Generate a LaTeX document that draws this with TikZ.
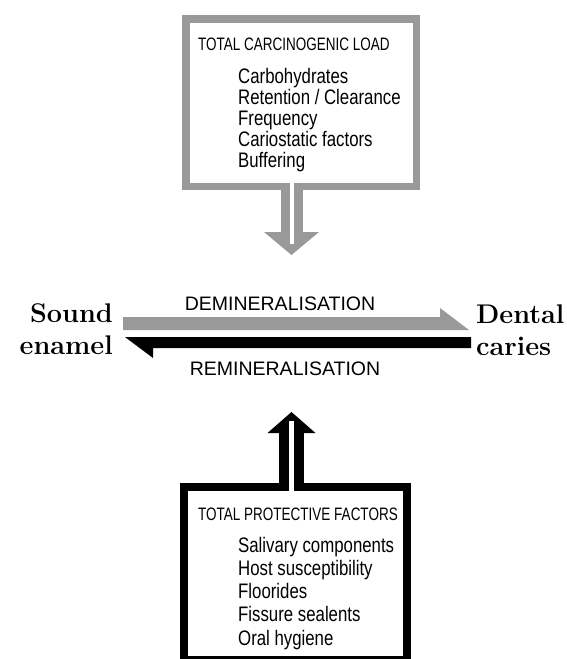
\documentclass[tikz,border=0pt]{standalone}
\usepackage{fontspec}
\usetikzlibrary{arrows.meta,calc}

\newfontfamily\labelfont{Liberation Sans}
\newfontfamily\headfont[FakeStretch=0.75]{Liberation Sans}
\newfontfamily\itemfont[FakeStretch=0.80]{Liberation Sans}
\definecolor{hatchgray}{gray}{0.6}

\tikzset{
    loadbox/.style={draw=hatchgray, line width=7.5pt, inner sep=0pt,
        minimum width=230.5pt, minimum height=167.5pt},
    protbox/.style={draw=black, line width=8pt, inner sep=0pt,
        minimum width=223pt, minimum height=173pt},
    headtext/.style={inner sep=0pt, anchor=base west,
        font=\headfont\fontsize{18}{18}\selectfont},
    itemtext/.style={inner sep=0pt, anchor=base west,
        font=\itemfont\fontsize{21}{21}\selectfont},
    enditem/.style={inner sep=0pt, font=\bfseries\fontsize{27}{32}\selectfont},
    processtext/.style={inner sep=0pt, anchor=base,
        font=\labelfont\fontsize{19.5}{19.5}\selectfont},
}

\begin{document}
\begin{tikzpicture}[x=1pt, y=-1pt]
    \useasboundingbox (0,0) rectangle (566,659);

    % carcinogenic load box
    \node[loadbox] (load) at (301,102.5) {};
    \node[headtext] (loadhead) at (198,50) {TOTAL CARCINOGENIC LOAD};
    \foreach \txt [count=\i] in {Carbohydrates, Retention / Clearance,
        Frequency, Cariostatic factors, Buffering}
        \node[itemtext] (load\i) at (238,62+21*\i) {\txt};

    % load pushes down
    \coordinate (loadtip) at (291.5,255);
    \draw[hatchgray, line width=22pt,
        -{Triangle[length=23pt, width=55pt, line width=0pt]}]
        (loadtip |- load.south) -- (loadtip);
    \coordinate (loadcore) at (291.5,181);
    \draw[white, line width=4pt] (loadcore) -- ($(loadtip)+(0,-11)$);

    % the two ends
    \node[enditem, align=right, anchor=east] (sound) at (113,329) {Sound\\enamel};
    \node[enditem, align=left, anchor=west] (dental) at (476,330) {Dental\\caries};

    % demineralisation, barb on top
    \coordinate (demS) at (123,330);
    \coordinate (demE) at (469,330);
    \fill[hatchgray] (demS) -- ++(0,-13) -- ($(demE)+(-29,-13)$) -- ++(0,-9)
        -- (demE) -- cycle;
    \node[processtext] (demin) at (280,310) {DEMINERALISATION};

    % remineralisation, barb below
    \coordinate (remS) at (125,337);
    \coordinate (remE) at (471,337);
    \fill[black] (remE) -- (remS) -- ++(28,21) -- ++(0,-10)
        -- ($(remE)+(0,11)$) -- cycle;
    \node[processtext] (remin) at (285,375) {REMINERALISATION};

    % protective factors box
    \node[protbox] (prot) at (295.5,573.5) {};
    \node[headtext] (prothead) at (198,520) {TOTAL PROTECTIVE FACTORS};
    \foreach \txt [count=\i] in {Salivary components, Host susceptibility,
        Floorides, Fissure sealents, Oral hygiene}
        \node[itemtext] (prot\i) at (238,528.7+23.3*\i) {\txt};

    % protection pushes up
    \coordinate (prottip) at (291.5,412);
    \draw[black, line width=25pt,
        -{Triangle[length=21pt, width=48pt, line width=0pt]}]
        (prottip |- prot.north) -- (prottip);
    \coordinate (protcore) at (291.5,492);
    \draw[white, line width=5pt] (protcore) -- ($(prottip)+(0,9)$);
\end{tikzpicture}
\end{document}
